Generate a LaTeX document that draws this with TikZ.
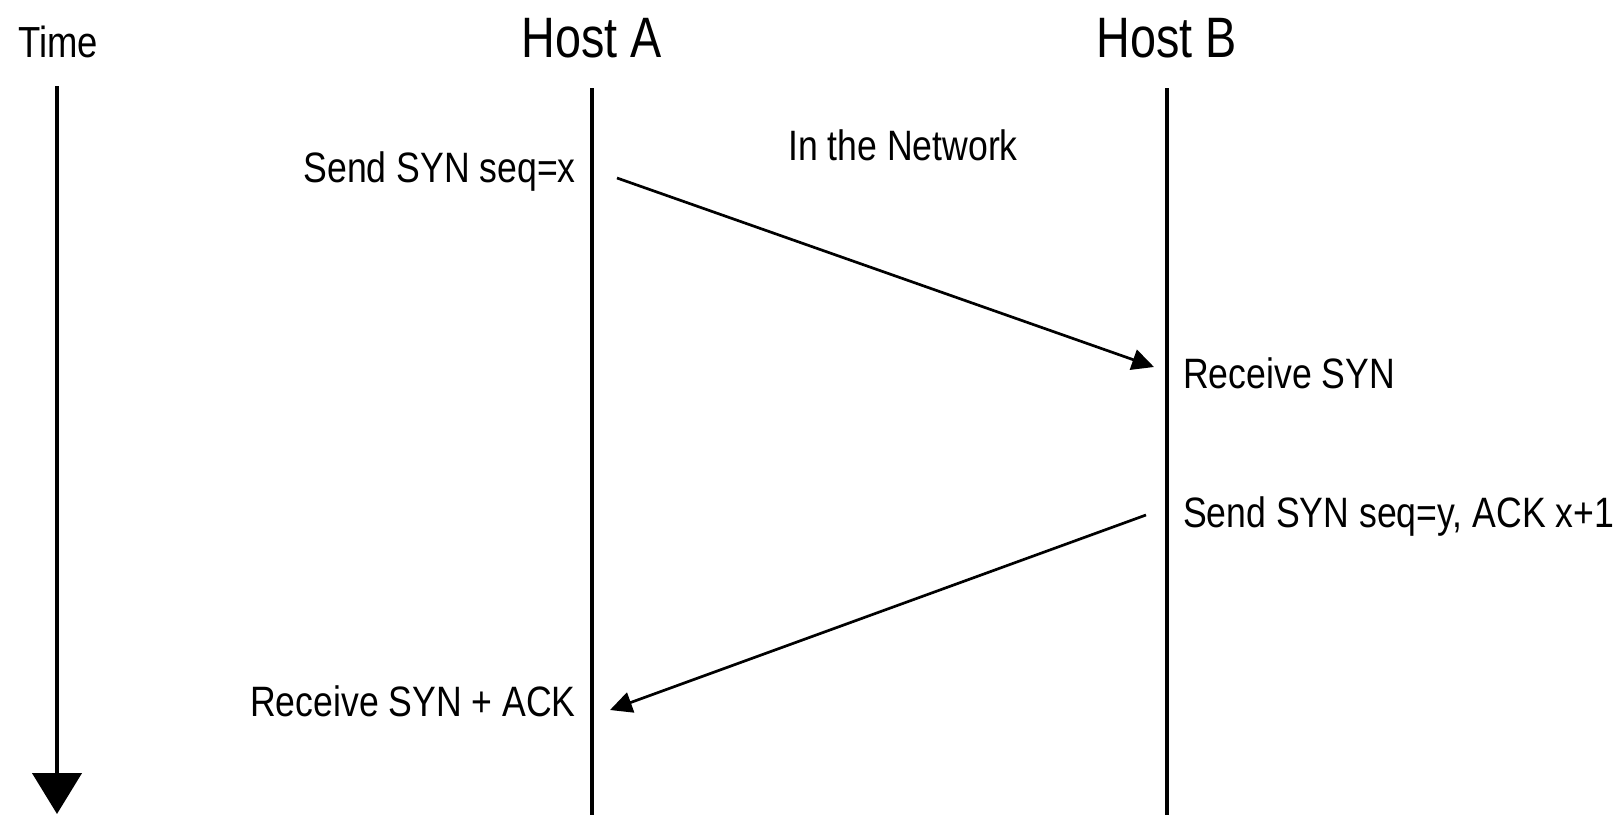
\documentclass[tikz,border=0pt]{standalone}
\usepackage{fontspec}
\setmainfont{Liberation Sans}[FakeStretch=0.82]
\newfontfamily\lblfont{Liberation Sans}[FakeStretch=0.838]
\usetikzlibrary{arrows.meta}
\begin{document}
\begin{tikzpicture}[x=1pt,y=-1pt,
  lbl/.style={inner sep=0pt,font=\lblfont\fontsize{42.5}{48}\selectfont},
  hostlbl/.style={inner sep=0pt,font=\fontsize{57}{64}\selectfont},
  lifeline/.style={line width=4pt},
  msg/.style={line width=2.7pt,-{Triangle[length=22pt,width=21pt]}},
  timearrow/.style={line width=4.5pt,-{Triangle[length=41pt,width=49pt]}}]
\useasboundingbox (0,0) rectangle (1620,815);
% time
\node[anchor=base west,inner sep=0pt,font=\lblfont\fontsize{43.5}{48}\selectfont] (time) at (18,57) {Time};
\coordinate (t1) at (57,86);
\coordinate (t2) at (57,814);
\draw[timearrow] (t1) -- (t2);
% hosts
\node[hostlbl,anchor=base] (hA) at (592,57) {Host A};
\node[hostlbl,anchor=base] (hB) at (1167,57) {Host B};
\coordinate (a1) at (592,88);
\coordinate (a2) at (592,815);
\coordinate (b1) at (1167,88);
\coordinate (b2) at (1167,815);
\draw[lifeline] (a1) -- (a2);
\draw[lifeline] (b1) -- (b2);
% labels
\node[lbl,anchor=base] (net) at (903,160) {In the Network};
\node[lbl,anchor=base east] (s1) at (576,182) {Send SYN seq=x};
\node[lbl,anchor=base west] (r1) at (1183,388) {Receive SYN};
\node[lbl,anchor=base west] (s2) at (1183,527) {Send SYN seq=y, ACK x+1};
\node[lbl,anchor=base east] (r2) at (576,716) {Receive SYN + ACK};
% messages
\coordinate (m1s) at (617,178);
\coordinate (m1e) at (1154,367);
\coordinate (m2s) at (1146,515);
\coordinate (m2e) at (610,710);
\draw[msg] (m1s) -- (m1e);
\draw[msg] (m2s) -- (m2e);
\end{tikzpicture}
\end{document}
